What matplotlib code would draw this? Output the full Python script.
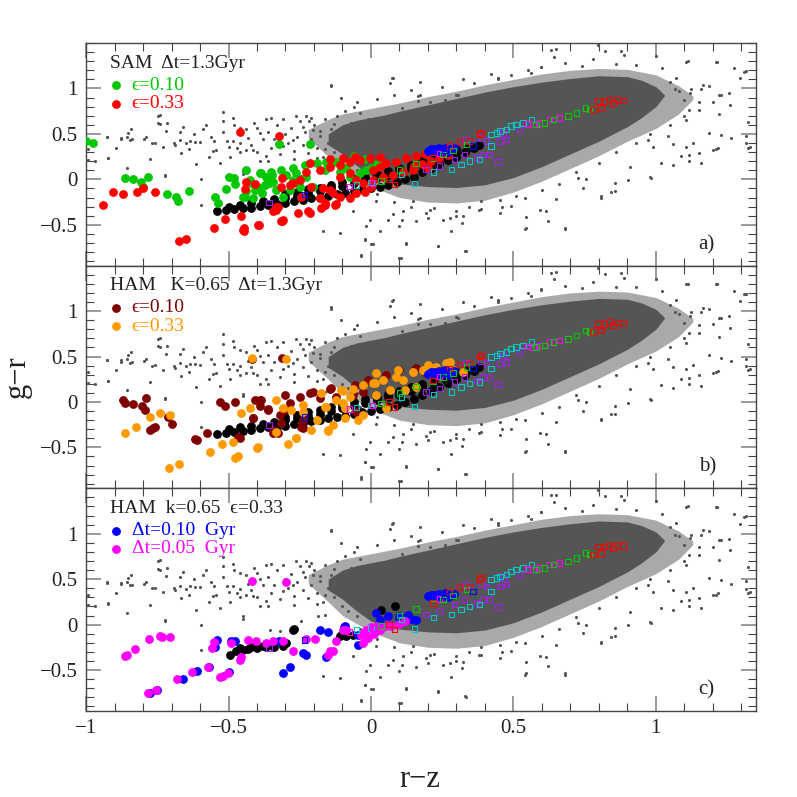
import matplotlib
matplotlib.use('Agg')
import matplotlib.pyplot as plt
from matplotlib.ticker import MultipleLocator, FixedLocator, FuncFormatter

plt.rcParams['font.family'] = ['Liberation Serif', 'DejaVu Serif']

# dense core of the galaxy cloud (r-z, lower g-r, upper g-r)
core_x = [-0.15, -0.10, -0.05, 0.00, 0.05, 0.10, 0.20, 0.30, 0.40, 0.50, 0.60, 0.70, 0.80, 0.90, 0.95, 1.00, 1.03]
core_lo = [0.38, 0.28, 0.15, 0.04, -0.02, -0.05, -0.08, -0.09, -0.06, 0.02, 0.14, 0.28, 0.42, 0.58, 0.68, 0.80, 0.92]
core_hi = [0.50, 0.60, 0.65, 0.68, 0.71, 0.75, 0.82, 0.89, 0.96, 1.02, 1.07, 1.11, 1.14, 1.13, 1.09, 1.02, 0.93]

# medium density halo around it
halo_x = [-0.22, -0.15, -0.10, 0.00, 0.10, 0.20, 0.30, 0.40, 0.50, 0.60, 0.70, 0.80, 0.90, 1.00, 1.08, 1.13]
halo_lo = [0.45, 0.25, 0.10, -0.08, -0.20, -0.25, -0.26, -0.23, -0.14, -0.02, 0.12, 0.26, 0.42, 0.56, 0.72, 0.88]
halo_hi = [0.55, 0.66, 0.72, 0.78, 0.84, 0.91, 0.97, 1.04, 1.10, 1.16, 1.20, 1.22, 1.21, 1.15, 1.03, 0.92]

# sparse galaxies outside the core
gray_pts = [
    (-0.139, 1.04), (0.074, 1.112), (0.066, 1.057), (0.171, 0.929), (0.259, 0.874), (0.30, 0.93), (0.335, 0.88),
    (0.165, 0.86), (0.11, 0.78), (0.2, 0.80), (-0.519, 0.745), (-0.742, 0.709), (-0.747, 0.617), (-0.715, 0.62),
    (-0.66, 0.58), (-0.841, 0.551), (-0.858, 0.471), (-0.876, 0.445), (-0.926, 0.463), (-0.847, 0.434),
    (-0.788, 0.471), (-0.759, 0.405), (-0.689, 0.379), (-0.671, 0.526), (-0.648, 0.397), (-0.618, 0.416),
    (-0.589, 0.551), (-0.56, 0.471), (-0.543, 0.324), (-0.496, 0.251), (-0.461, 0.397), (-0.437, 0.324),
    (-0.39, 0.507), (-0.309, 0.368), (-0.274, 0.434), (-0.203, 0.544), (-0.923, 0.233), (-0.993, 0.214),
    (-0.73, 0.354), (-0.666, 0.288), (-0.595, -0.28), (-0.724, 0.049), (-0.04, 0.727), (-0.01, 0.66),
    (-0.07, 0.62), (-0.005, -0.445), (0.03, -0.573), (0.06, -0.445), (0.11, -0.445), (-0.022, -0.665),
    (0.107, -0.866), (-0.034, -0.83), (0.335, -0.793), (0.282, -0.573), (0.253, -0.445), (0.345, -0.30),
    (0.194, -0.372), (0.32, -0.48),
    (0.797, 1.478), (0.644, 1.35), (0.633, 1.423), (0.879, 1.416), (1.001, 1.357), (1.106, 1.295),
    (1.212, 1.295), (1.294, 1.112), (1.311, 1.185), (1.323, 0.636), (1.317, 0.397), (1.33, 0.36),
    (1.258, 0.947), (1.223, 0.929), (1.2, 0.855), (1.165, 1.039), (1.153, 0.764), (1.118, 0.764), (1.1, 0.874),
    (1.048, 1.07), (1.066, 0.991), (1.106, 0.361), (1.106, 0.654), (1.118, 0.269), (1.159, 0.178), (1.2, 0.324),
    (1.23, 0.489), (1.264, 0.452), (1.218, 0.343), (1.06, 0.159), (0.99, 0.361), (0.972, 0.434), (0.908, 0.141),
    (0.902, -0.006), (0.855, -0.042), (0.808, -0.188), (0.843, -0.134), (0.978, 0.031), (0.744, -0.097),
    (0.68, -0.537), (0.545, -0.537), (0.615, -0.353), (0.235, -0.738), (0.124, -0.701), (0.1, -0.866),
    (0.206, -0.335), (0.323, -0.408), (0.159, -0.463), (0.452, -0.225), (0.51, -0.188), (0.387, -0.243),
    (0.171, 1.075), (0.206, 0.855), (0.305, 0.929), (0.446, 1.112), (0.487, 0.984), (0.598, 1.24), (0.563, 1.167),
    (0.65, 1.429), (0.82, 1.41), (0.888, 1.366), (0.779, 1.319), (0.598, 1.234), (0.492, 1.146), (0.446, 1.117),
    (1.112, 1.3), (1.214, 1.293), (1.276, 1.22), (1.317, 1.19), (1.229, 0.927), (1.259, 0.817), (1.221, 0.714),
    (1.188, 0.513), (1.13, 0.403), (1.153, 0.293), (1.118, 0.201), (1.089, 0.256), (1.212, 0.33), (1.323, 0.348),
    (1.317, 0.476), (1.019, 0.183), (0.984, 0.018), (0.855, -0.128), (0.808, -0.201), (0.727, 0.018),
    (0.756, 0.0), (0.65, -0.22), (0.68, -0.55), (0.621, -0.458), (0.592, -0.341), (0.545, -0.41), (0.539, -0.55),
    (0.492, -0.293), (0.452, -0.366), (0.387, -0.33), (1.06, 0.385), (1.042, 0.476), (1.083, 0.971),
    (1.124, 0.989), (1.159, 0.989), (1.188, 1.026),
    (0.077, 1.117), (-0.139, 1.026), (0.165, 0.916), (0.323, 1.099), (0.446, 1.099), (-0.227, 0.696),
    (-0.104, 0.897), (-0.484, 0.421), (-0.449, 0.092), (-0.361, 0.201), (-0.244, 0.037), (-0.186, 0.092),
    (0.001, -0.714), (-0.016, -0.513), (0.019, -0.238), (0.112, -0.348), (0.147, -0.238), (0.2, -0.421),
    (0.235, -0.733), (0.329, -0.788), (0.276, -0.421), (0.30, -0.40), (-0.034, -0.843),
    (-0.993, 0.329), (-0.97, 0.201), (-0.926, 0.465), (-0.923, 0.231), (-0.896, 0.348), (-0.876, 0.458),
    (-0.853, 0.513), (-0.84, 0.44), (-0.858, 0.128), (-0.796, 0.447), (-0.776, 0.22), (-0.77, 0.40),
    (-0.747, 0.696), (-0.741, 0.604), (-0.718, 0.531), (-0.724, 0.036), (-0.69, 0.40), (-0.671, 0.428),
    (-0.636, 0.421), (-0.613, 0.164), (-0.60, 0.41), (-0.597, 0.0), (-0.554, 0.311), (-0.519, 0.641),
    (-0.507, 0.421), (-0.484, 0.67), (-0.47, 0.35), (-0.461, 0.567), (-0.449, 0.062), (-0.414, 0.318),
    (-0.40, 0.57), (-0.367, 0.256), (-0.35, 0.67), (-0.356, -0.055), (-0.32, -0.07), (-0.262, 0.696),
    (-0.217, 0.641), (-0.18, 0.531), (-0.162, 0.11), (-0.168, -0.568), (-0.11, -0.586), (-0.063, -0.348),
    (-0.022, -0.66), (0.007, -0.714), (0.1, -0.513), (0.077, -0.385), (0.122, -0.714),
    (-0.43, 0.45), (-0.42, 0.38), (-0.40, 0.30), (-0.38, 0.44), (-0.36, 0.52), (-0.35, 0.35), (-0.33, 0.60),
    (-0.32, 0.28), (-0.30, 0.50), (-0.29, 0.40), (-0.28, 0.56), (-0.27, 0.31), (-0.26, 0.47), (-0.25, 0.64),
    (-0.24, 0.38), (-0.23, 0.52), (-0.22, 0.29), (-0.21, 0.44), (-0.20, 0.60), (-0.19, 0.35), (-0.18, 0.48),
    (-0.17, 0.25), (-0.16, 0.66), (-0.15, 0.40), (-0.14, 0.55), (-0.13, 0.30), (-0.12, 0.70), (-0.11, 0.45),
    (-0.10, 0.20), (-0.09, 0.75), (-0.08, 0.15), (-0.06, 0.80), (-0.05, 0.10), (-0.44, 0.55), (-0.41, 0.62),
    (-0.39, 0.20), (-0.37, 0.66), (-0.34, 0.44), (-0.31, 0.66), (-0.27, 0.22), (-0.24, 0.58), (-0.21, 0.68),
    (-0.19, 0.23), (-0.16, 0.33), (-0.13, 0.61), (-0.52, 0.52), (-0.50, 0.36), (-0.48, 0.60), (-0.46, 0.30),
    (-0.55, 0.42), (-0.58, 0.60), (-0.62, 0.50), (-0.64, 0.33), (-0.57, 0.25), (-0.53, 0.18),
    (-0.05, 0.85), (0.02, 0.88), (0.08, 0.93), (0.14, 0.98), (0.25, 1.02), (0.36, 1.06), (0.42, 1.16),
    (0.55, 1.20), (0.68, 1.28), (0.74, 1.25), (0.86, 1.27), (0.93, 1.26), (1.02, 1.22), (1.07, 1.12),
    (1.12, 0.95), (1.15, 0.85), (1.10, 0.70), (1.05, 0.60), (0.98, 0.50), (0.93, 0.40), (0.86, 0.30),
    (0.80, 0.18), (0.72, 0.08), (0.66, -0.05), (0.60, -0.12), (0.54, -0.20), (0.46, -0.30), (0.38, -0.34),
    (0.30, -0.35), (0.22, -0.32), (0.14, -0.30), (0.08, -0.25), (0.02, -0.16), (-0.04, -0.05),
]

# reference model (black), panels a and b
black_ab = [
    (-0.54, -0.35), (-0.51, -0.34), (-0.48, -0.33), (-0.45, -0.32), (-0.42, -0.31), (-0.39, -0.29), (-0.36, -0.28),
    (-0.33, -0.27), (-0.30, -0.26), (-0.27, -0.24), (-0.24, -0.23), (-0.21, -0.21), (-0.18, -0.20), (-0.15, -0.18),
    (-0.12, -0.16), (-0.09, -0.15), (-0.06, -0.13), (-0.03, -0.11), (0.00, -0.10), (0.03, -0.08), (0.06, -0.06),
    (0.09, -0.03), (0.12, 0.00), (0.15, 0.03), (0.18, 0.08), (0.21, 0.12), (0.24, 0.17), (0.27, 0.21),
    (0.30, 0.25), (0.33, 0.30), (0.36, 0.34), (0.38, 0.38),
    (-0.50, -0.30), (-0.46, -0.28), (-0.42, -0.26), (-0.38, -0.24), (-0.34, -0.22), (-0.30, -0.20), (-0.26, -0.18),
    (-0.22, -0.15), (-0.18, -0.13), (-0.14, -0.10), (-0.10, -0.07), (-0.06, -0.04), (-0.02, -0.01), (0.02, 0.02),
    (0.06, 0.05), (0.10, 0.08), (0.14, 0.12), (0.18, 0.16), (0.22, 0.20), (0.26, 0.25), (0.30, 0.30), (0.34, 0.35),
    (-0.30, -0.16), (-0.26, -0.14), (-0.22, -0.11), (-0.18, -0.09), (-0.14, -0.06), (-0.10, -0.03), (-0.06, 0.00),
    (-0.02, 0.03), (0.02, 0.06), (0.06, 0.09), (0.10, 0.12), (0.14, 0.16), (0.18, 0.20), (0.22, 0.25),
    (0.26, 0.28), (0.30, 0.33),
]
black_c = [
    (-0.496, -0.33), (-0.472, -0.29), (-0.45, -0.28), (-0.43, -0.265), (-0.40, -0.26), (-0.37, -0.25), (-0.34, -0.245),
    (-0.31, -0.24), (-0.297, -0.2), (-0.46, -0.26), (-0.42, -0.25), (-0.38, -0.235), (-0.35, -0.225),
    (-0.275, -0.055), (-0.27, -0.045), (-0.087, -0.128), (-0.063, -0.11), (-0.11, -0.12), (0.036, 0.157),
    (0.083, 0.201), (-0.10, -0.10),
]

# panel a: SAM, eps = 0.10 (green) and 0.33 (red)
sam_010 = [
    (-1.0, 0.42), (-0.975, 0.40), (-0.862, 0.013), (-0.837, 0.002), (-0.808, -0.024), (-0.782, 0.031), (-0.80, -0.08),
    (-0.716, -0.16), (-0.683, -0.19), (-0.677, -0.24), (-0.638, -0.126), (-0.546, -0.196), (-0.537, -0.26),
    (-0.508, -0.104), (-0.498, 0.031), (-0.482, 0.02), (-0.478, -0.05), (-0.449, -0.19), (-0.437, -0.13),
    (-0.422, -0.042), (-0.414, -0.21), (-0.385, 0.068), (-0.381, -0.15), (-0.355, -0.042), (-0.346, 0.05),
    (-0.323, 0.386), (-0.215, 0.386), (-0.425, -0.006), (-0.443, -0.189), (-0.39, 0.068), (-0.35, 0.086),
    (-0.315, 0.104), (-0.273, 0.123), (-0.232, 0.16), (-0.19, 0.185), (-0.157, 0.196), (-0.121, 0.196),
    (-0.273, -0.006), (-0.332, -0.115), (-0.373, -0.06), (-0.408, -0.115), (-0.367, 0.031), (-0.297, 0.05),
    (-0.344, -0.024), (-0.262, 0.068), (-0.227, 0.031), (-0.203, -0.079), (-0.25, -0.079), (-0.31, -0.189),
    (-0.162, 0.104), (-0.11, 0.086), (-0.086, 0.123), (-0.075, 0.031), (-0.04, 0.068), (-0.016, 0.104),
    (0.0, 0.12), (-0.437, 0.104), (-0.396, -0.079), (-0.285, -0.115), (-0.06, 0.26), (-0.02, 0.22), (0.02, 0.17),
]
sam_033 = [
    (-0.94, -0.28), (-0.905, -0.14), (-0.87, -0.163), (-0.823, -0.134), (-0.80, -0.09), (-0.759, -0.134),
    (-0.675, -0.683), (-0.648, -0.654), (-0.552, -0.536), (-0.511, -0.434), (-0.449, -0.56), (-0.446, -0.54),
    (-0.394, -0.50), (-0.317, -0.463), (-0.31, -0.445), (-0.332, -0.335), (-0.326, -0.30), (-0.458, 0.518),
    (-0.323, 0.482), (-0.256, -0.372), (-0.215, -0.365), (-0.162, -0.28), (-0.124, -0.273), (-0.437, -0.024),
    (-0.315, -0.079), (-0.443, -0.108), (-0.408, -0.05), (-0.344, -0.353), (-0.332, -0.3), (-0.314, -0.456),
    (-0.396, -0.5), (-0.447, -0.566), (-0.455, -0.408), (-0.221, -0.353), (-0.174, -0.317), (-0.162, -0.262),
    (-0.127, -0.28), (-0.11, -0.189), (-0.075, -0.207), (-0.051, -0.152), (-0.022, -0.134), (0.0, -0.079),
    (-0.133, -0.152), (-0.314, 0.013), (-0.285, -0.06), (-0.25, -0.006), (-0.227, 0.086), (-0.18, 0.104),
    (-0.209, -0.079), (-0.168, -0.097), (-0.145, 0.141), (-0.11, 0.16), (-0.075, 0.196), (-0.04, 0.214),
    (-0.004, 0.233), (0.03, 0.251), (-0.075, 0.068), (-0.11, 0.031), (-0.051, -0.006), (-0.028, -0.042),
    (0.007, 0.104), (0.03, 0.141), (0.054, 0.178), (0.089, 0.196), (0.124, 0.233), (0.159, 0.258), (0.188, 0.28),
    (0.007, -0.006), (0.042, 0.024), (0.077, 0.05), (0.112, 0.086), (0.148, 0.104), (-0.18, -0.207),
    (-0.145, -0.115), (-0.244, -0.189), (-0.273, -0.042), (-0.215, 0.178), (-0.145, 0.22), (-0.098, 0.233),
    (-0.057, 0.251), (0.18, 0.17), (0.21, 0.20), (0.24, 0.23), (0.27, 0.27), (0.20, 0.13), (0.15, 0.15),
]

# panel b: HAM, eps = 0.10 (maroon) and 0.33 (orange)
ham_010 = [
    (-0.87, 0.022), (-0.864, -0.015), (-0.835, -0.022), (-0.802, -0.044), (-0.794, -0.088), (-0.788, 0.04),
    (-0.777, -0.308), (-0.765, -0.29), (-0.759, -0.271), (-0.712, -0.161), (-0.697, -0.242), (-0.619, -0.41),
    (-0.61, -0.415), (-0.575, -0.344), (-0.416, 0.469), (-0.312, 0.48), (-0.531, 0.004), (-0.511, -0.044),
    (-0.478, 0.004), (-0.414, -0.172), (-0.39, 0.022), (-0.39, -0.04), (-0.361, -0.08), (-0.467, -0.381),
    (-0.46, -0.40), (-0.321, -0.143), (-0.303, -0.088), (-0.315, -0.234), (-0.344, -0.344), (-0.33, -0.33),
    (-0.215, 0.095), (-0.18, 0.04), (-0.145, 0.139), (-0.122, 0.059), (-0.063, 0.077), (-0.028, 0.113),
    (-0.051, -0.106), (-0.244, -0.271), (-0.285, -0.015), (-0.25, 0.059), (-0.408, 0.022), (-0.385, 0.022),
    (-0.361, -0.088), (-0.414, -0.18), (-0.344, -0.308), (-0.326, -0.344), (-0.303, 0.077), (-0.238, -0.198),
    (-0.203, 0.113), (-0.139, 0.15), (-0.057, 0.187), (-0.01, 0.242), (0.054, 0.297), (0.1, 0.352),
    (0.159, 0.37), (0.194, 0.315), (-0.238, -0.29),
]
ham_033 = [
    (-0.864, -0.344), (-0.826, -0.271), (-0.777, -0.161), (-0.742, -0.124), (-0.706, -0.143), (-0.709, -0.729),
    (-0.673, -0.685), (-0.566, -0.553), (-0.523, -0.461), (-0.486, -0.443), (-0.476, -0.612), (-0.467, -0.595),
    (-0.399, -0.502), (-0.291, -0.461), (-0.264, -0.392), (-0.416, 0.48), (-0.297, 0.469), (-0.455, -0.124),
    (-0.426, -0.062), (-0.309, -0.069), (-0.279, -0.088), (-0.238, -0.033), (-0.19, -0.198), (-0.151, -0.315),
    (-0.133, -0.253), (-0.157, -0.051), (-0.122, 0.022), (-0.098, 0.125), (-0.063, 0.139), (-0.028, 0.187),
    (0.013, 0.212), (-0.045, -0.198), (-0.028, -0.143), (-0.092, -0.069), (-0.332, -0.326), (-0.396, -0.491),
    (-0.262, -0.399), (-0.209, -0.308), (-0.151, -0.308), (-0.092, -0.18), (0.054, -0.07), (-0.332, 0.022),
    (-0.238, -0.106), (-0.174, 0.095), (-0.162, -0.051), (-0.104, 0.132), (-0.098, -0.015), (-0.075, 0.059),
    (0.007, 0.205), (0.019, 0.077), (0.042, 0.242), (0.066, 0.132), (0.089, 0.279), (0.112, 0.242),
    (0.148, 0.333), (0.183, 0.352), (0.23, 0.388), (0.265, 0.425), (0.288, 0.352), (0.323, 0.333),
    (0.276, 0.443), (0.2, 0.406), (0.118, 0.132), (0.159, 0.168), (0.095, 0.352), (0.019, 0.315),
]

# panel c: HAM, dt = 0.10 Gyr (blue) and 0.05 Gyr (magenta)
dt_010 = [
    (-0.309, -0.531), (-0.285, -0.465), (-0.239, -0.311), (-0.227, -0.33), (-0.18, -0.055), (-0.151, -0.084),
    (-0.157, -0.355), (-0.092, -0.018), (-0.045, -0.22), (-0.046, -0.11), (-0.542, -0.165), (-0.478, -0.18),
    (-0.323, -0.18), (-0.612, -0.513), (-0.66, -0.6), (-0.75, -0.72), (-0.775, -0.755), (0.1, 0.091),
    (0.13, 0.11), (0.019, 0.13), (0.06, 0.10), (0.10, 0.075), (0.14, 0.065), (0.159, 0.055), (-0.548, -0.25),
    (-0.49, -0.18), (-0.095, -0.025), (0.03, 0.05), (-0.50, -0.525), (-0.57, -0.465),
]
dt_005 = [
    (-0.417, 0.476), (-0.297, 0.469), (-0.864, -0.348), (-0.858, -0.33), (-0.827, -0.268), (-0.78, -0.154),
    (-0.742, -0.128), (-0.735, -0.14), (-0.706, -0.139), (-0.782, -0.751), (-0.755, -0.72), (-0.68, -0.597),
    (-0.627, -0.52), (-0.572, -0.469), (-0.531, -0.579), (-0.52, -0.565), (-0.502, -0.531), (-0.558, -0.257),
    (-0.552, -0.194), (-0.49, -0.202), (-0.461, -0.385), (-0.455, -0.36), (-0.432, -0.165), (-0.402, -0.183),
    (-0.367, -0.202), (-0.344, -0.183), (-0.309, -0.183), (-0.274, -0.293), (-0.227, -0.158), (-0.198, -0.158),
    (-0.151, -0.33), (-0.133, -0.293), (-0.145, -0.29), (-0.122, -0.183), (-0.098, -0.055), (-0.086, -0.06),
    (-0.034, -0.11), (-0.028, -0.202), (-0.016, -0.06), (0.0, -0.03), (0.02, -0.02), (0.05, -0.02), (0.07, -0.02),
    (0.10, 0.01), (-0.01, -0.15), (0.01, -0.10), (0.03, -0.06), (0.06, 0.0), (0.12, 0.04), (-0.02, -0.08),
]

# blue clump seen in every panel
blue_clump = [(0.20, 0.31), (0.22, 0.33), (0.24, 0.34), (0.26, 0.35), (0.28, 0.33), (0.25, 0.31), (0.23, 0.30),
              (0.21, 0.33), (0.27, 0.30), (0.29, 0.34)]

# open squares (observed sequences), same in every panel
sq_red = [(0.797, 0.861), (0.837, 0.879), (0.849, 0.842), (0.884, 0.868), (0.808, 0.788), (0.82, 0.86),
          (0.865, 0.875), (0.779, 0.769), (0.387, 0.513), (0.346, 0.421), (0.311, 0.414), (0.276, 0.366),
          (0.218, 0.238), (0.083, -0.055), (0.063, 0.0), (0.381, 0.5)]
sq_green = [(0.767, 0.769), (0.753, 0.787), (0.721, 0.733), (0.691, 0.696), (0.609, 0.623), (0.58, 0.604),
            (0.64, 0.66), (0.335, 0.385), (0.288, 0.319), (0.253, 0.275), (0.159, 0.172), (0.1, 0.1),
            (0.036, -0.018), (0.218, 0.233)]
sq_magenta = [(0.662, 0.677), (0.627, 0.659), (0.592, 0.623), (0.569, 0.604), (0.55, 0.61), (0.241, 0.282),
              (-0.075, -0.08), (0.005, -0.04)]
sq_cyan = [(0.563, 0.659), (0.534, 0.623), (0.51, 0.604), (0.492, 0.586), (0.475, 0.55), (0.452, 0.531),
           (0.44, 0.513), (0.422, 0.495), (0.422, 0.366), (0.381, 0.22), (0.346, 0.201), (0.317, 0.165),
           (0.282, 0.11), (0.22, 0.08), (0.153, -0.048), (0.001, -0.037), (-0.051, -0.062), (0.107, 0.055)]
sq_purple = [(0.522, 0.55), (0.463, 0.513), (0.452, 0.421), (0.405, 0.421), (0.446, 0.194), (0.416, 0.275),
             (0.393, 0.275), (0.475, 0.44), (0.37, 0.238), (0.329, 0.275), (0.294, 0.22), (0.241, 0.147),
             (0.194, 0.11), (0.387, 0.452), (0.334, 0.434), (-0.358, -0.256)]
sq_blue = [(0.358, 0.366), (-0.233, -0.168), (0.26, 0.32)]

GRAY = '#555555'
GREEN = '#00c800'
RED = '#ff0000'
MAROON = '#800000'
ORANGE = '#ff9a00'
BLUE = '#0000ff'
MAGENTA = '#ff00ff'

panels = [
    ('SAM  Δt=1.3Gyr', black_ab, (sam_010, GREEN, 'ϵ=0.10'), (sam_033, RED, 'ϵ=0.33'), 'a)'),
    ('HAM   K=0.65  Δt=1.3Gyr', black_ab, (ham_010, MAROON, 'ϵ=0.10'), (ham_033, ORANGE, 'ϵ=0.33'), 'b)'),
    ('HAM  k=0.65  ϵ=0.33', black_c, (dt_010, BLUE, 'Δt=0.10  Gyr'), (dt_005, MAGENTA, 'Δt=0.05  Gyr'), 'c)'),
]


def xy(pts):
    return [p[0] for p in pts], [p[1] for p in pts]


def fmt(v, pos):
    return ('%g' % round(v, 3)).replace('-', '\u2212')


fig, axes = plt.subplots(3, 1, figsize=(7.97, 7.97), dpi=100, sharex=True)
fig.subplots_adjust(left=0.108, right=0.948, top=0.946, bottom=0.108, hspace=0)

for ax, (title, black, s1, s2, tag) in zip(axes, panels):
    ax.fill_between(halo_x, halo_lo, halo_hi, color=GRAY, alpha=0.5, lw=0, zorder=1)
    ax.fill_between(core_x, core_lo, core_hi, color=GRAY, lw=0, zorder=1)
    gx, gy = xy(gray_pts)
    ax.scatter(gx, gy, s=5, color=GRAY, lw=0, zorder=2)

    bx, by = xy(black)
    ax.scatter(bx, by, s=40, color='black', lw=0, zorder=3)
    for k, (pts, col, lab) in enumerate([s1, s2]):
        px, py = xy(pts)
        ax.scatter(px, py, s=40, color=col, lw=0, zorder=4 + k)
    cx, cy = xy(blue_clump)
    ax.scatter(cx, cy, s=40, color=BLUE, lw=0, zorder=6)

    for pts, col in [(sq_purple, '#a020f0'), (sq_cyan, '#00c8c8'), (sq_magenta, MAGENTA),
                     (sq_green, GREEN), (sq_red, RED), (sq_blue, BLUE)]:
        qx, qy = xy(pts)
        ax.scatter(qx, qy, s=16, marker='s', facecolors='none', edgecolors=col, linewidths=0.8, zorder=7)

    # labels inside the panel
    ax.text(0.035, 0.91, title, transform=ax.transAxes, fontsize=14, color='#222222', va='center')
    for k, (pts, col, lab) in enumerate([s1, s2]):
        yy = 0.81 - 0.082 * k
        ax.scatter([0.045], [yy], s=40, color=col, lw=0, transform=ax.transAxes, zorder=8)
        ax.text(0.068, yy, lab, transform=ax.transAxes, fontsize=14, color=col, va='center')
    ax.text(0.915, 0.095, tag, transform=ax.transAxes, fontsize=15, color='#222222', va='center')

    ax.set_xlim(-1, 1.35)
    ax.set_ylim(-0.95, 1.5)
    ax.xaxis.set_major_locator(MultipleLocator(0.5))
    ax.xaxis.set_minor_locator(MultipleLocator(0.1))
    ax.xaxis.set_major_formatter(FuncFormatter(fmt))
    ax.yaxis.set_major_locator(FixedLocator([-0.5, 0, 0.5, 1]))
    ax.yaxis.set_minor_locator(MultipleLocator(0.1))
    ax.yaxis.set_major_formatter(FuncFormatter(fmt))
    ax.tick_params(which='both', direction='in', top=True, right=True, labelsize=15, labelcolor='#222222')
    ax.tick_params(which='major', length=11, width=1.4, color='#999999', pad=6)
    ax.tick_params(which='minor', length=6, width=0.8, color='#444444')
    for sp in ax.spines.values():
        sp.set_color('#444444')
        sp.set_linewidth(1.0)

fig.text(0.527, 0.022, 'r−z', ha='center', va='center', fontsize=22, color='#222222')
fig.text(0.022, 0.527, 'g−r', ha='center', va='center', rotation=90, fontsize=22, color='#222222')

fig.savefig('out.png', dpi=100)
